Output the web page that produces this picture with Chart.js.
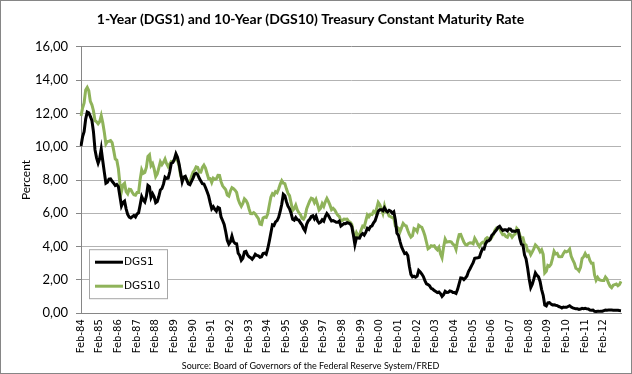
<!DOCTYPE html>
<html>
<head>
<meta charset="utf-8">
<script src="https://cdn.jsdelivr.net/npm/chart.js@4.4.1/dist/chart.umd.min.js"></script>
<style>
  html, body { margin: 0; padding: 0; background: #fff; }
  canvas { display: block; }
</style>
</head>
<body>
<canvas id="myChart" width="632" height="374"></canvas>
<script>
//setup - monthly values, Feb-84 .. Jan-13
const monthNames = ["Jan", "Feb", "Mar", "Apr", "May", "Jun", "Jul", "Aug", "Sep", "Oct", "Nov", "Dec"];
const startYear = 1984;
const startMonth = 1; // Feb

const dgs1 = [
  10.04, 10.59, 10.90, 11.66, 12.08, 12.03, 11.82, 11.58, 10.90, 9.82, 9.33,
  9.02, 9.29, 9.86, 9.14, 8.46, 7.80, 7.86, 8.05, 8.07, 7.92, 7.81, 7.67,
  7.73, 7.61, 7.03, 6.44, 6.65, 6.73, 6.27, 5.93, 5.77, 5.72, 5.80, 5.87,
  5.78, 5.96, 6.03, 6.50, 7.00, 6.80, 6.68, 7.03, 7.67, 7.59, 6.96, 7.17,
  6.99, 6.64, 6.71, 7.01, 7.40, 7.49, 7.75, 8.17, 8.09, 8.11, 8.48, 8.99,
  9.05, 9.25, 9.57, 9.36, 8.98, 8.44, 7.89, 8.18, 8.22, 7.99, 7.77, 7.72,
  7.92, 8.11, 8.35, 8.40, 8.32, 8.10, 7.94, 7.78, 7.76, 7.55, 7.31, 7.05,
  6.64, 6.27, 6.40, 6.24, 6.13, 6.36, 6.31, 5.78, 5.57, 5.33, 4.89, 4.38,
  4.15, 4.29, 4.63, 4.30, 4.19, 4.17, 3.60, 3.47, 3.18, 3.30, 3.68, 3.71,
  3.50, 3.39, 3.33, 3.24, 3.36, 3.54, 3.47, 3.44, 3.36, 3.39, 3.58, 3.61,
  3.54, 3.87, 4.32, 4.82, 5.31, 5.27, 5.48, 5.56, 5.76, 6.11, 6.54, 7.14,
  7.05, 6.70, 6.43, 6.27, 6.00, 5.64, 5.59, 5.75, 5.62, 5.59, 5.43, 5.31,
  5.09, 4.94, 5.34, 5.54, 5.64, 5.81, 5.85, 5.67, 5.83, 5.55, 5.42, 5.47,
  5.61, 5.53, 5.80, 5.99, 5.87, 5.69, 5.54, 5.56, 5.52, 5.46, 5.46, 5.53,
  5.24, 5.31, 5.39, 5.38, 5.44, 5.41, 5.36, 5.21, 4.71, 4.12, 4.53, 4.52,
  4.51, 4.70, 4.78, 4.69, 4.85, 5.10, 5.03, 5.20, 5.25, 5.43, 5.55, 5.84,
  6.12, 6.22, 6.22, 6.15, 6.33, 6.17, 6.08, 6.18, 6.13, 6.01, 6.09, 5.60,
  4.81, 4.68, 4.30, 3.98, 3.78, 3.58, 3.62, 3.47, 2.82, 2.33, 2.18, 2.22,
  2.16, 2.23, 2.57, 2.48, 2.35, 2.20, 1.96, 1.76, 1.72, 1.65, 1.49, 1.45,
  1.36, 1.30, 1.24, 1.27, 1.18, 1.01, 1.12, 1.31, 1.24, 1.25, 1.34, 1.31,
  1.24, 1.24, 1.19, 1.43, 1.78, 2.12, 2.10, 2.02, 2.12, 2.23, 2.50, 2.67,
  2.86, 3.03, 3.30, 3.32, 3.33, 3.36, 3.64, 3.87, 3.85, 4.18, 4.33, 4.35,
  4.45, 4.68, 4.77, 4.90, 5.00, 5.16, 5.22, 5.08, 4.97, 5.01, 5.01, 4.94,
  5.06, 5.05, 4.92, 4.93, 4.91, 4.96, 4.96, 4.47, 4.14, 4.10, 3.50, 3.26,
  2.71, 2.05, 1.54, 1.74, 2.06, 2.42, 2.28, 2.18, 1.91, 1.42, 1.07, 0.49,
  0.44, 0.62, 0.64, 0.55, 0.50, 0.51, 0.48, 0.46, 0.40, 0.37, 0.31, 0.37,
  0.35, 0.35, 0.40, 0.45, 0.37, 0.32, 0.29, 0.26, 0.26, 0.23, 0.25, 0.29,
  0.27, 0.29, 0.26, 0.25, 0.19, 0.18, 0.19, 0.11, 0.10, 0.11, 0.11, 0.12,
  0.12, 0.16, 0.19, 0.18, 0.19, 0.19, 0.19, 0.18, 0.18, 0.18, 0.18, 0.16,
  0.15
];

const dgs10 = [
  11.84, 12.32, 12.63, 13.41, 13.56, 13.36, 12.72, 12.52, 12.16, 11.57, 11.50,
  11.38, 11.51, 11.86, 11.43, 10.85, 10.16, 10.31, 10.33, 10.37, 10.24, 9.78, 9.26,
  9.19, 8.70, 7.78, 7.30, 7.71, 7.80, 7.30, 7.17, 7.45, 7.43, 7.25, 7.11,
  7.08, 7.25, 7.25, 8.02, 8.61, 8.40, 8.45, 8.76, 9.42, 9.52, 8.86, 8.99,
  8.67, 8.21, 8.37, 8.72, 9.09, 8.92, 9.06, 9.26, 8.98, 8.80, 8.96, 9.11,
  9.09, 9.17, 9.36, 9.18, 8.86, 8.28, 8.02, 8.11, 8.19, 8.01, 7.87, 7.84,
  8.21, 8.47, 8.59, 8.79, 8.76, 8.48, 8.47, 8.75, 8.89, 8.72, 8.39, 8.08,
  8.09, 7.85, 8.11, 8.04, 8.07, 8.28, 8.27, 7.90, 7.65, 7.53, 7.42, 7.09,
  7.03, 7.34, 7.54, 7.48, 7.39, 7.26, 6.84, 6.59, 6.42, 6.59, 6.87, 6.77,
  6.60, 6.26, 5.98, 5.97, 6.04, 5.96, 5.81, 5.68, 5.36, 5.33, 5.72, 5.77,
  5.75, 5.97, 6.48, 6.97, 7.18, 7.10, 7.30, 7.24, 7.46, 7.74, 7.96, 7.81,
  7.78, 7.47, 7.20, 7.06, 6.63, 6.17, 6.28, 6.49, 6.20, 6.04, 5.93, 5.71,
  5.65, 5.81, 6.27, 6.51, 6.74, 6.91, 6.87, 6.64, 6.83, 6.53, 6.20, 6.30,
  6.58, 6.42, 6.69, 6.89, 6.71, 6.49, 6.22, 6.30, 6.21, 6.03, 5.88, 5.81,
  5.54, 5.57, 5.65, 5.64, 5.65, 5.50, 5.46, 5.34, 4.81, 4.53, 4.83, 4.65,
  4.72, 5.00, 5.23, 5.18, 5.54, 5.90, 5.79, 5.94, 5.92, 6.11, 6.03, 6.28,
  6.66, 6.52, 6.26, 5.99, 6.44, 6.10, 6.05, 5.83, 5.80, 5.74, 5.72, 5.24,
  5.16, 5.10, 4.89, 5.14, 5.39, 5.28, 5.24, 4.97, 4.73, 4.57, 4.65, 5.09,
  5.04, 4.91, 5.28, 5.21, 5.16, 4.93, 4.65, 4.26, 3.87, 3.94, 4.05, 4.03,
  4.05, 3.90, 3.81, 3.96, 3.57, 3.33, 3.98, 4.45, 4.27, 4.29, 4.30, 4.27,
  4.15, 4.08, 3.83, 4.35, 4.72, 4.73, 4.50, 4.28, 4.13, 4.10, 4.19, 4.23,
  4.22, 4.17, 4.50, 4.34, 4.14, 4.00, 4.18, 4.26, 4.20, 4.46, 4.54, 4.47,
  4.42, 4.57, 4.72, 4.99, 5.11, 5.11, 5.09, 4.88, 4.72, 4.73, 4.60, 4.56,
  4.76, 4.72, 4.56, 4.69, 4.75, 5.10, 5.00, 4.67, 4.52, 4.53, 4.15, 4.10,
  3.74, 3.74, 3.51, 3.68, 3.88, 4.10, 4.01, 3.89, 3.69, 3.81, 3.53, 2.42,
  2.52, 2.87, 2.82, 2.93, 3.29, 3.72, 3.56, 3.59, 3.40, 3.39, 3.40, 3.59,
  3.73, 3.69, 3.73, 3.85, 3.42, 3.20, 3.01, 2.70, 2.65, 2.54, 2.76, 3.29,
  3.39, 3.58, 3.41, 3.46, 3.17, 3.00, 3.00, 2.30, 1.98, 2.15, 2.01, 1.98,
  1.97, 1.97, 2.17, 2.05, 1.80, 1.62, 1.53, 1.68, 1.72, 1.75, 1.65, 1.72,
  1.91
];

const yTicks = [0, 2, 4, 6, 8, 10, 12, 14, 16];

// month labels like "Feb-84"
const labels = [];
for (let i = 0; i < dgs1.length; i++) {
  const m = (startMonth + i) % 12;
  const yr = startYear + Math.floor((startMonth + i) / 12);
  labels.push(monthNames[m] + "-" + String(yr % 100).padStart(2, "0"));
}

const data = {
  labels: labels,
  datasets: [
    {
      label: "DGS1",
      data: dgs1,
      borderColor: "#000000",
      borderWidth: 3,
      pointRadius: 0,
      tension: 0,
    },
    {
      label: "DGS10",
      data: dgs10,
      borderColor: "#8fb35a",
      borderWidth: 3,
      pointRadius: 0,
      tension: 0,
    },
  ],
};

// white background + grey outer frame
const chartFrame = {
  id: "chartFrame",
  beforeDraw(chart) {
    const ctx = chart.ctx;
    ctx.save();
    ctx.fillStyle = "#ffffff";
    ctx.fillRect(0, 0, chart.width, chart.height);
    ctx.restore();
  },
  afterDraw(chart) {
    const ctx = chart.ctx;
    ctx.save();
    ctx.strokeStyle = "#868686";
    ctx.lineWidth = 1;
    ctx.strokeRect(0.5, 0.5, chart.width - 1, chart.height - 1);
    ctx.restore();
  },
};

// legend box inside the plot, lower left
const insideLegend = {
  id: "insideLegend",
  afterDatasetsDraw(chart) {
    const { ctx, chartArea } = chart;
    const x = chartArea.left + 8;
    const y = chartArea.bottom - 64;
    ctx.save();
    ctx.fillStyle = "#ffffff";
    ctx.fillRect(x, y, 78, 49);
    ctx.strokeStyle = "#a6a6a6";
    ctx.lineWidth = 1;
    ctx.strokeRect(x + 0.5, y + 0.5, 78, 49);
    chart.data.datasets.forEach((ds, i) => {
      const ly = y + 13 + i * 24;
      ctx.strokeStyle = ds.borderColor;
      ctx.lineWidth = 3;
      ctx.beginPath();
      ctx.moveTo(x + 6, ly);
      ctx.lineTo(x + 34, ly);
      ctx.stroke();
      ctx.fillStyle = "#000000";
      ctx.font = "10.5px 'DejaVu Sans'";
      ctx.textBaseline = "middle";
      ctx.fillText(ds.label, x + 35, ly + 0.5);
    });
    ctx.restore();
  },
};

Chart.defaults.font.family = "Lato";
Chart.defaults.color = "#000000";

//config
const config = {
  type: "line",
  data: data,
  options: {
    responsive: false,
    animation: false,
    layout: { padding: { left: 0, right: 11, top: 0, bottom: 0 } },
    scales: {
      x: {
        offset: false,
        grid: { display: false, drawTicks: false },
        border: { display: true, color: "#868686", width: 1 },
        ticks: {
          autoSkip: false,
          maxRotation: 90,
          minRotation: 90,
          padding: 6,
          font: { family: "DejaVu Sans", size: 10 },
          callback: function (value, index) {
            return index % 12 === 0 ? this.getLabelForValue(value) : null;
          },
        },
        afterFit: (scale) => {
          scale.height = 47;
        },
      },
      y: {
        min: yTicks[0],
        max: yTicks[yTicks.length - 1],
        ticks: {
          stepSize: yTicks[1] - yTicks[0],
          padding: 8,
          font: { size: 13 },
          callback: (v) => v.toFixed(2).replace(".", ","),
        },
        grid: {
          color: (c) => (c.tick && c.tick.value === yTicks[yTicks.length - 1] ? "#8c8c8c" : "#b3b3b3"),
          tickColor: "#868686",
          tickLength: 5,
        },
        border: { display: true, color: "#868686", width: 1 },
        title: {
          display: true,
          text: "Percent",
          font: { size: 12 },
          padding: { top: 19, bottom: 0 },
        },
        afterFit: (scale) => {
          scale.width = 81;
        },
      },
    },
    plugins: {
      legend: { display: false },
      tooltip: { enabled: false },
      title: {
        display: true,
        text: "1-Year (DGS1) and 10-Year (DGS10) Treasury Constant Maturity Rate",
        font: { size: 14, weight: "bold" },
        color: "#000000",
        padding: { top: 11, bottom: 19 },
      },
      subtitle: {
        display: true,
        position: "bottom",
        text: "Source: Board of Governors of the Federal Reserve System/FRED",
        font: { size: 9 },
        color: "#000000",
        padding: { top: 0, bottom: 3 },
      },
    },
  },
  plugins: [chartFrame, insideLegend],
};

const myChart = new Chart(document.getElementById("myChart"), config);
</script>
</body>
</html>
